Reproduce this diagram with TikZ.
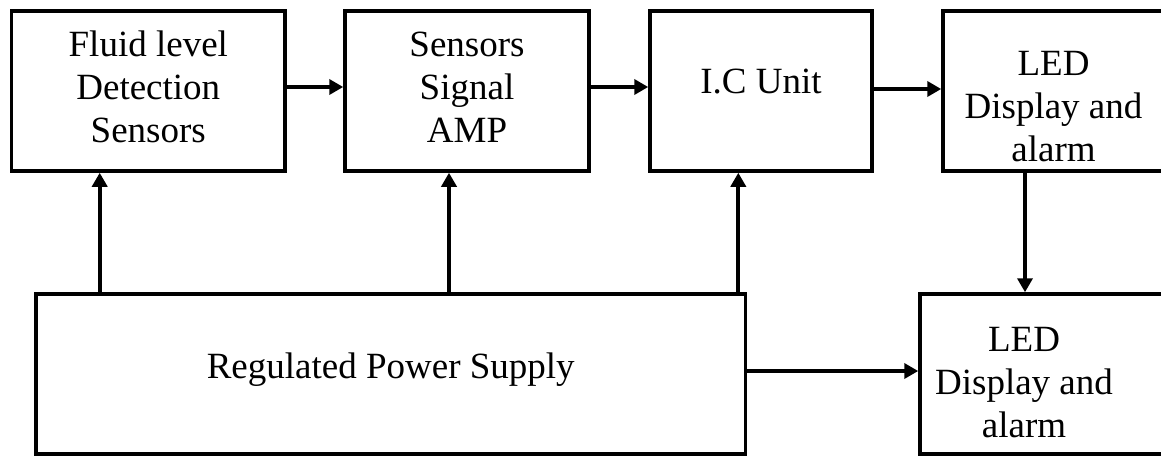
\documentclass[tikz,border=0pt]{standalone}
\usepackage{fontspec}
\setmainfont{Liberation Serif}
\usetikzlibrary{arrows.meta}
\newcommand\shiftedtext[3]{\raisebox{#2}[\height][\depth]{\hspace*{#1}\begin{tabular}{@{}c@{}}#3\end{tabular}\hspace*{-#1}}}
\begin{document}
\begin{tikzpicture}[x=1pt,y=1pt,
  blockbox/.style={draw=black,line width=3.5pt,rectangle,inner sep=0pt,
    font=\fontsize{37}{43}\selectfont},
  arr/.style={line width=4pt,-{Triangle[length=14pt,width=15pt]}}]
\useasboundingbox (0,0) rectangle (1161,-455);
\clip (0,0) rectangle (1161,-455);
\node[blockbox,minimum width=273.3pt,minimum height=160pt] (box1) at (148.3,-91)
  {\shiftedtext{0pt}{0pt}{Fluid level\\Detection\\Sensors}};
\node[blockbox,minimum width=244pt,minimum height=160pt] (box2) at (467,-91)
  {\shiftedtext{0pt}{0pt}{Sensors\\Signal\\AMP}};
\node[blockbox,minimum width=222pt,minimum height=160pt] (box3) at (761,-91)
  {\shiftedtext{0pt}{6.6pt}{I.C Unit}};
\node[blockbox,minimum width=221pt,minimum height=160pt] (box4) at (1053.5,-91)
  {\shiftedtext{0pt}{-18.4pt}{LED\\Display and\\alarm}};
\node[blockbox,minimum width=709.5pt,minimum height=160pt] (psu) at (390.75,-374)
  {\shiftedtext{0pt}{4.6pt}{Regulated Power Supply}};
\node[blockbox,minimum width=260pt,minimum height=160pt] (box5) at (1050,-374)
  {\shiftedtext{-26pt}{-11.4pt}{LED\\Display and\\alarm}};
\draw[arr] ([yshift=4pt]box1.east) -- ([yshift=4pt]box1.east -| box2.west);
\draw[arr] ([yshift=4pt]box2.east) -- ([yshift=4pt]box2.east -| box3.west);
\draw[arr] ([yshift=2pt]box3.east) -- ([yshift=2pt]box3.east -| box4.west);
\draw[arr] ([xshift=-48.6pt]box1.south |- psu.north) -- ([xshift=-48.6pt]box1.south);
\draw[arr] ([xshift=-18pt]box2.south |- psu.north) -- ([xshift=-18pt]box2.south);
\draw[arr] ([xshift=-22.7pt]box3.south |- psu.north) -- ([xshift=-22.7pt]box3.south);
\draw[arr] ([xshift=-28.5pt]box4.south) -- ([xshift=-28.5pt]box4.south |- box5.north);
\draw[arr] ([yshift=3pt]psu.east) -- ([yshift=3pt]psu.east -| box5.west);
\end{tikzpicture}
\end{document}
